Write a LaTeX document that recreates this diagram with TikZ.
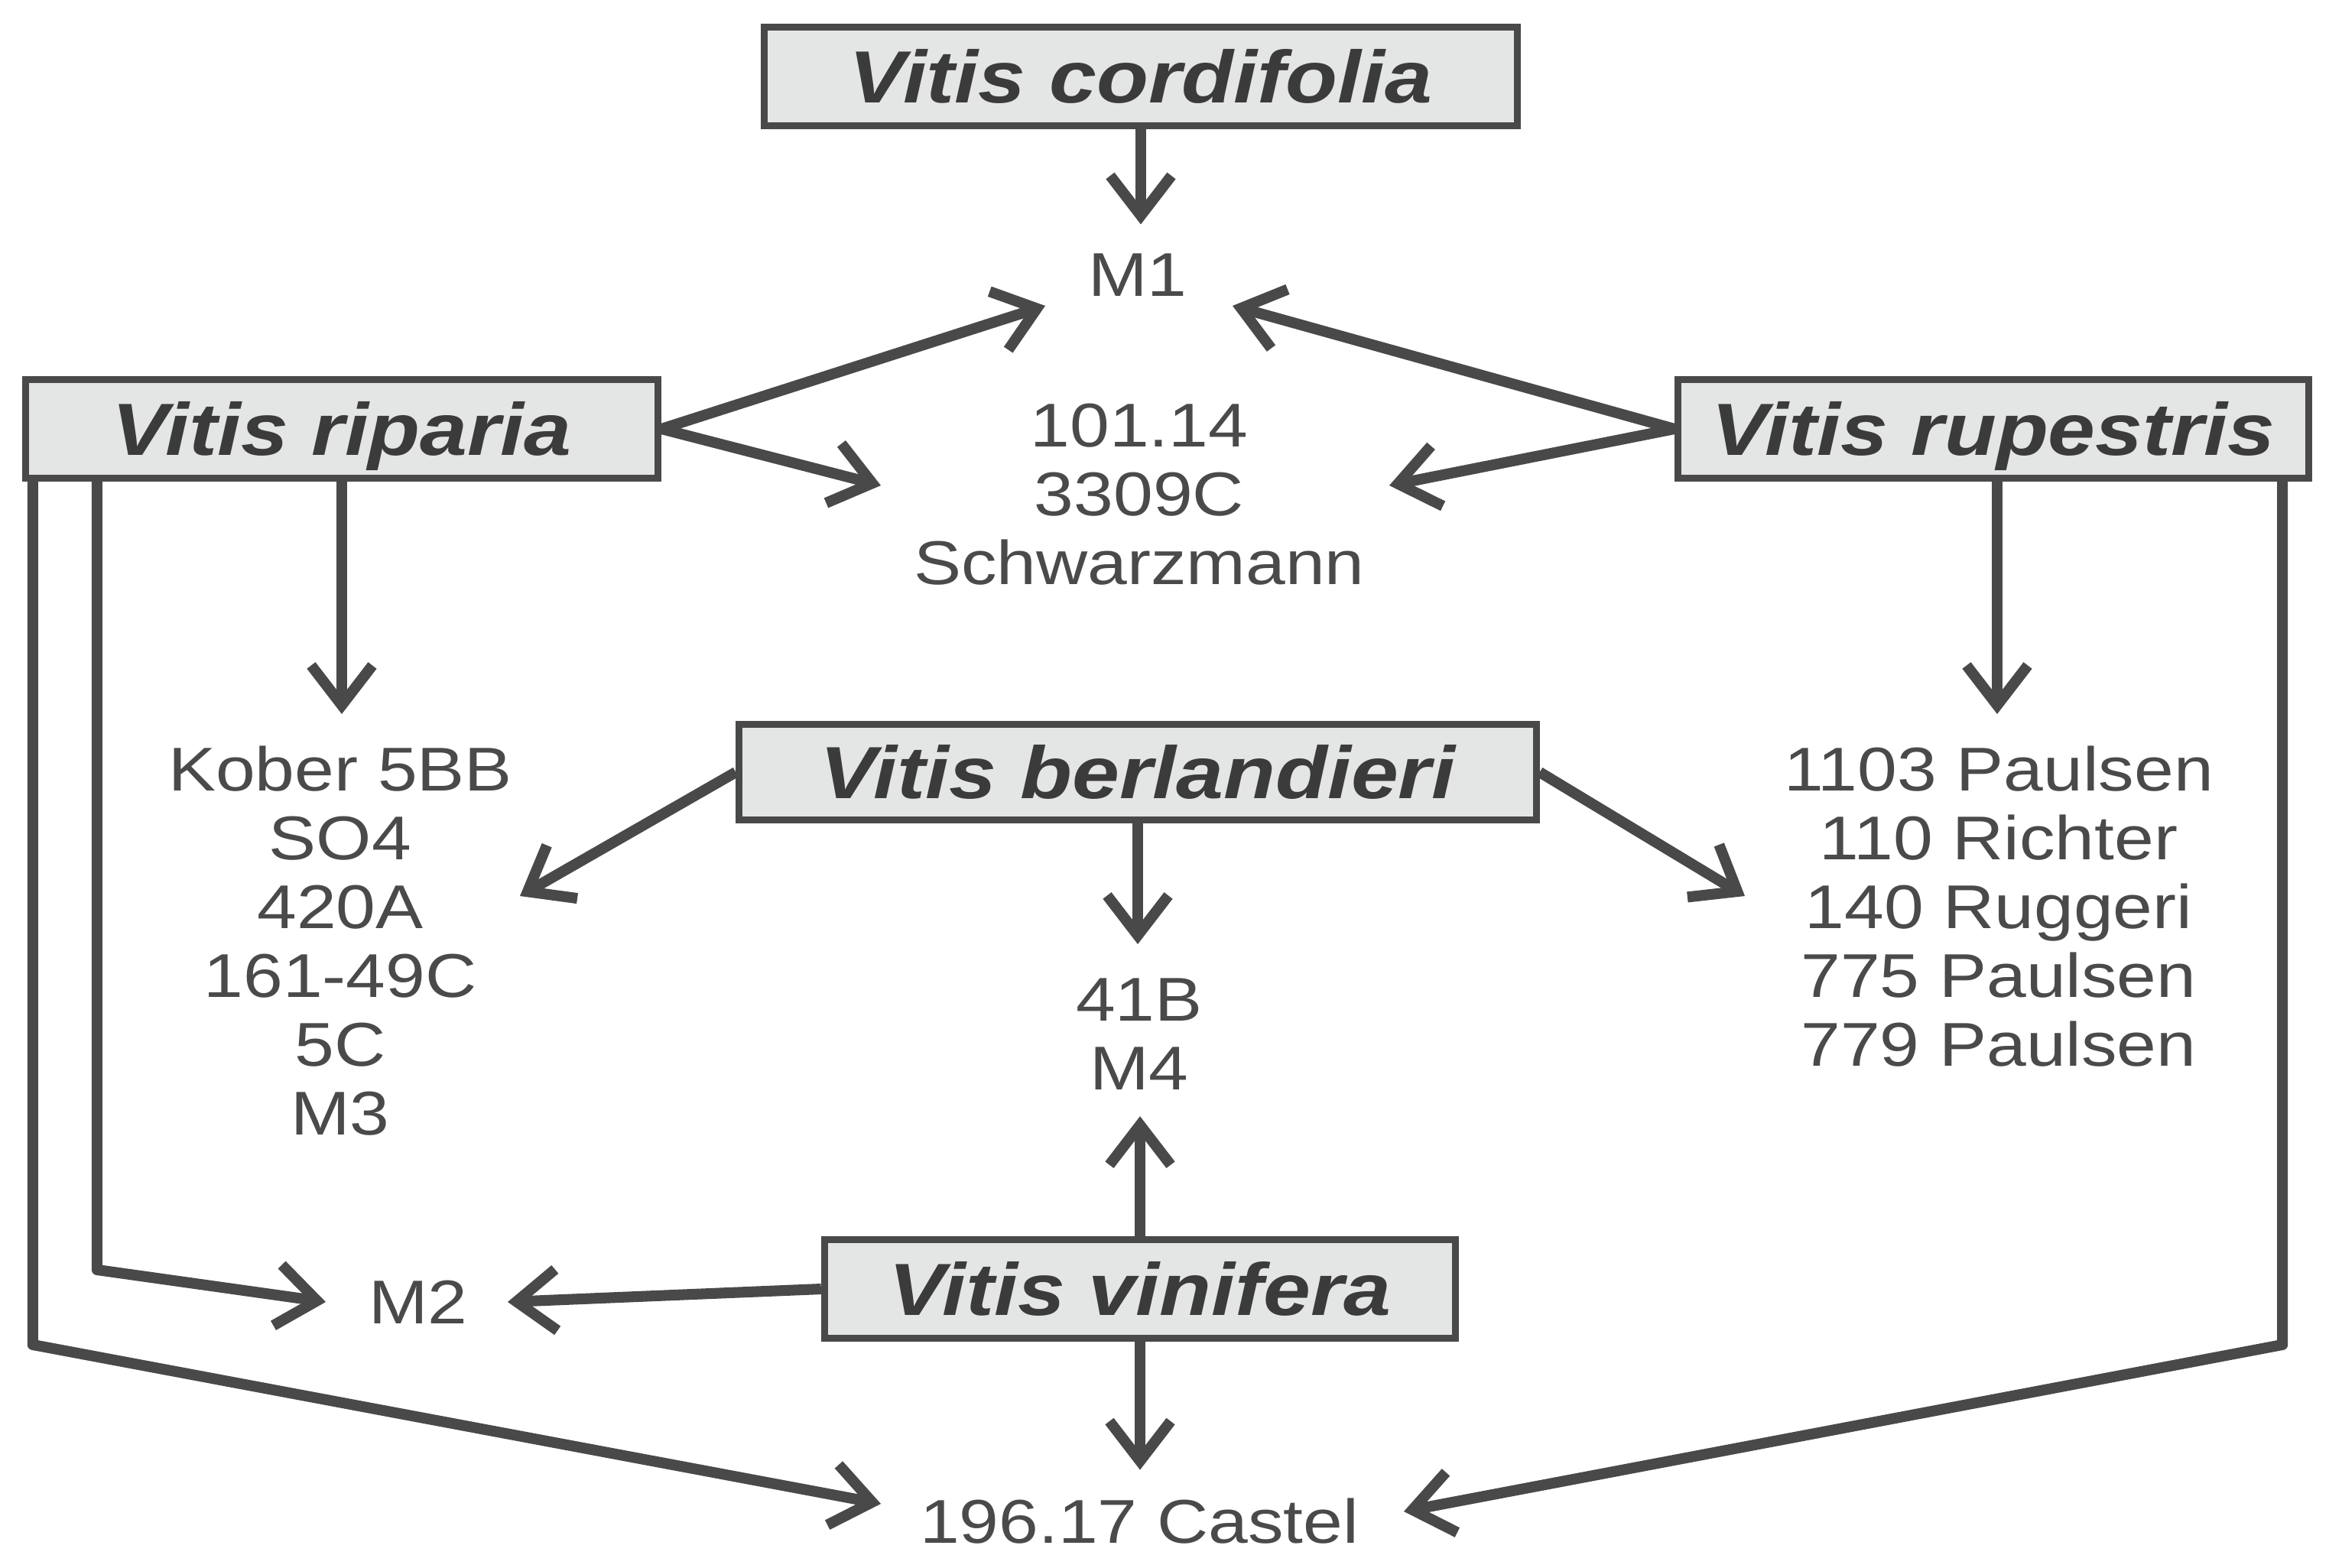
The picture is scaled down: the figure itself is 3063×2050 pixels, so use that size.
\documentclass[tikz,border=0pt]{standalone}
\usepackage{fontspec}
\setmainfont{Liberation Sans}[FakeStretch=1.15]
\usetikzlibrary{arrows.meta,calc}
\definecolor{ln}{HTML}{494949}
\definecolor{bx}{HTML}{E4E5E5}
\definecolor{tx}{HTML}{4A4A4A}
\begin{document}
\begin{tikzpicture}[x=0.01cm,y=-0.01cm,
  species/.style={draw=ln, fill=bx, line width=2.5pt, inner sep=0pt, text=tx!80!black,
    font=\fontsize{27.5}{32}\selectfont\bfseries\itshape,
    text height=19.7pt, text depth=0pt, minimum height=1.29cm},
  lbl/.style={text=tx, font=\fontsize{23}{25.6}\selectfont, align=center, inner sep=0pt},
  conn/.style={draw=ln, line width=4pt, line join=round,
    -{Straight Barb[length=5.2mm,width=8mm]}}]
\useasboundingbox (0,0) rectangle (3063,2050);
\fill[white] (0,0) rectangle (3063,2050);

% species boxes
\node[species, minimum width=9.84cm] (cord) at (1492,100) {Vitis cordifolia};
\node[species, minimum width=8.27cm] (rip) at (447,561) {Vitis riparia};
\node[species, minimum width=8.25cm] (rup) at (2607,561) {Vitis rupestris};
\node[species, minimum width=10.42cm, minimum height=1.25cm] (berl) at (1488,1010) {Vitis berlandieri};
\node[species, minimum width=8.25cm] (vin) at (1491,1686) {Vitis vinifera};

% labels
\node[lbl] (m1) at (1488,360) {M1};
\node[lbl, anchor=north] (hyb) at (1490,527) {101.14\\3309C\\Schwarzmann};
\node[lbl, anchor=north] (ripb) at (445,975) {Kober 5BB\\SO4\\420A\\161-49C\\5C\\M3};
\node[lbl, anchor=north] (rupb) at (2614,975) {1103 Paulsen\\110 Richter\\140 Ruggeri\\775 Paulsen\\779 Paulsen};
\node[lbl, anchor=north] (bv) at (1490,1279) {41B\\M4};
\node[lbl] (m2) at (547,1703) {M2};
\node[lbl] (cas) at (1490,1990) {196.17 Castel};

% arrow end points
\coordinate (tM1L) at (1367,400);
\coordinate (tM1R) at (1612,400);
\coordinate (tHL) at (1152,635);
\coordinate (tHR) at (1817,635);
\coordinate (tBL) at (680,1172);
\coordinate (tBR) at (2282,1172);
\coordinate (tVL) at (664,1703);
\coordinate (tM2L) at (426,1703);
\coordinate (tCasL) at (1152,1967);
\coordinate (tCasR) at (1836,1977);

% connectors
\draw[conn, shorten >=0.38cm] (cord.south) -- (cord.south |- m1.north);
\draw[conn] (rip.east) -- (tM1L);
\draw[conn] (rip.east) -- (tHL);
\draw[conn] (rup.west) -- (tM1R);
\draw[conn] (rup.west) -- (tHR);
\draw[conn, shorten >=0.41cm] (rip.south) -- (rip.south |- ripb.north);
\draw[conn, shorten >=0.41cm] ([xshift=0.05cm]rup.south) -- ([xshift=0.05cm]rup.south |- rupb.north);
\draw[conn] (berl.west) -- (tBL);
\draw[conn] (berl.east) -- (tBR);
\draw[conn, shorten >=0.44cm] (berl.south) -- (berl.south |- bv.north);
\draw[conn, shorten >=0.34cm] (vin.north) -- (vin.north |- bv.south);
\draw[conn] (vin.west) -- (tVL);
\draw[conn, shorten >=0.37cm] (vin.south) -- (vin.south |- cas.north);
\draw[conn] ([xshift=0.98cm]rip.south west) -- ++(0,1031) -- (tM2L);
\draw[conn] ([xshift=0.14cm]rip.south west) -- ++(0,1129) -- (tCasL);
\draw[conn] ([xshift=-0.39cm]rup.south east) -- ++(0,1129) -- (tCasR);
\end{tikzpicture}
\end{document}
